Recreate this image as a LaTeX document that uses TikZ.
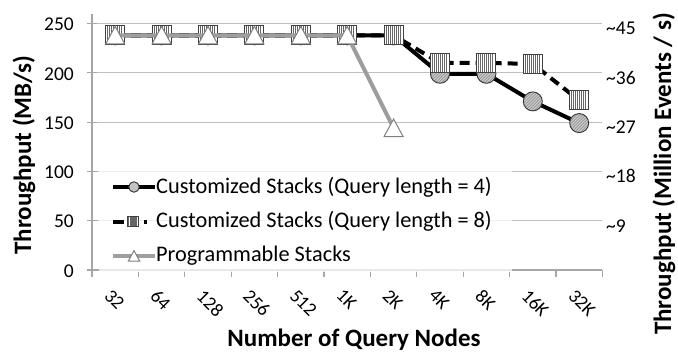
\documentclass[tikz,border=0pt]{standalone}
\usepackage{fontspec}
\setmainfont{Carlito}
\begin{document}
\begin{tikzpicture}[x=1pt,y=-1pt,
  gridline/.style={draw=black!25, line width=1.1},
  axisline/.style={draw=black!35, line width=1.1},
  serA/.style={draw=black, line width=4, line join=round},
  serB/.style={draw=black, line width=4, line join=round, dash pattern=on 10 off 6},
  serC/.style={draw=black!38, line width=4, line join=round},
  ticklab/.style={font=\fontsize{19.5}{20}\selectfont, inner sep=0},
  xlab/.style={font=\fontsize{19}{19}\selectfont, inner sep=0, rotate=-45, anchor=north west},
  legtext/.style={font=\fontsize{22.3}{23}\selectfont, inner sep=0, anchor=west},
  axtitle/.style={font=\bfseries\fontsize{25}{25}\selectfont, inner sep=0},
  circmark/.pic={
    \begin{scope}
      \clip (0,0) circle (9.5);
      \fill[black!40] (-10,-10) rectangle (10,10);
      \foreach \k in {-21,-18,...,21}
        \draw[black!18, line width=0.8] (\k-10,10) -- (\k+10,-10);
    \end{scope}
    \draw[black!80, line width=0.9] (0,0) circle (9.5);
  },
  sqmark/.pic={
    \fill[white] (-9.5,-9.5) rectangle (9.5,9.5);
    \foreach \k in {-7.5,-5.5,...,7.6}
      \draw[black!60, line width=0.9] (\k,-9.5) -- (\k,9.5);
    \draw[black!75, line width=0.9] (-9.5,-9.5) rectangle (9.5,9.5);
  },
  trimark/.pic={
    \draw[fill=white, draw=black!50, line width=1] (0,-9) -- (9.5,8.5) -- (-9.5,8.5) -- cycle;
  }
]
\useasboundingbox (0,0) rectangle (678,356);

% value axis: 0..250 mapped onto y = 270 .. 23.5
\foreach \v in {50,100,...,250}
  \draw[gridline] (92,{270-0.986*\v}) -- (602,{270-0.986*\v});
\draw[axisline] (92,14) -- (92,270);
\foreach \v in {0,50,...,250}
  \draw[axisline] (87,{270-0.986*\v}) -- (97,{270-0.986*\v});
\draw[axisline] (92,270) -- (602,270);
\foreach \k in {0,...,11}
  \draw[axisline] ({92+46.4*\k},270) -- ({92+46.4*\k},277);

% left tick labels
\foreach \v in {0,50,...,250}
  \node[ticklab, anchor=east] (yl\v) at (74,{271-0.986*\v}) {\v};
% right tick labels
\foreach \v/\t in {50/{\textasciitilde}9,100/{\textasciitilde}18,150/{\textasciitilde}27,200/{\textasciitilde}36,250/{\textasciitilde}45}
  \node[ticklab, anchor=west] (yr\v) at (606,{275-0.986*\v}) {\t};

% category labels
\foreach \t [count=\i from 0] in {32,64,128,256,512,1K,2K,4K,8K,16K,32K}
  \node[xlab] (xl\i) at ({112+46.4*\i},288) {\t};

% data points
\foreach \v [count=\i from 0] in {238,238,238,238,238,238,238,199,199,171,149}
  \coordinate (a\i) at ({115.2+46.4*\i},{270-0.986*\v});
\foreach \v [count=\i from 0] in {238,238,238,238,238,238,238,210,210,209,172}
  \coordinate (b\i) at ({115.2+46.4*\i},{270-0.986*\v});
\foreach \v [count=\i from 0] in {238,238,238,238,238,238,144}
  \coordinate (c\i) at ({115.2+46.4*\i},{270-0.986*\v});

% series: Customized Stacks, query length 4
\draw[serA] (a0) foreach \i in {1,...,10} { -- (a\i) };
\foreach \i in {0,...,10} \pic at (a\i) {circmark};
% series: Customized Stacks, query length 8
\draw[serB] (b0) foreach \i in {1,...,10} { -- (b\i) };
\foreach \i in {0,...,10} \pic at (b\i) {sqmark};
% series: Programmable Stacks
\draw[serC] (c0) foreach \i in {1,...,6} { -- (c\i) };
\foreach \i in {0,...,6} \pic at (c\i) {trimark};

% legend
\fill[white, fill opacity=0.75] (99,164) rectangle (512,272);
\coordinate (la1) at (113,187); \coordinate (la2) at (155,187); \coordinate (lam) at (134,187);
\coordinate (lb1) at (113,221.5); \coordinate (lb2) at (155,221.5); \coordinate (lbm) at (133,221.5);
\coordinate (lc1) at (113,256); \coordinate (lc2) at (155,256); \coordinate (lcm) at (134,256);
\draw[serA] (la1) -- (la2);
\pic[scale=0.55] at (lam) {circmark};
\draw[serB, dash pattern=on 11 off 20 on 3 off 20] (lb1) -- (lb2);
\pic[scale=0.55] at (lbm) {sqmark};
\draw[serC] (lc1) -- (lc2);
\pic[scale=0.6] at (lcm) {trimark};
\node[legtext] (lta) at (156,187) {Customized Stacks (Query length = 4)};
\node[legtext] (ltb) at (156,221.5) {Customized Stacks (Query length = 8)};
\node[legtext] (ltc) at (156,256) {Programmable Stacks};

% axis titles
\node[axtitle, rotate=90] (ytitle) at (24,155) {Throughput (MB/s)};
\node[axtitle, rotate=90] (y2title) at (664,174) {Throughput (Million Events / s)};
\node[axtitle] (xtitle) at (354,340) {Number of Query Nodes};
\end{tikzpicture}
\end{document}
